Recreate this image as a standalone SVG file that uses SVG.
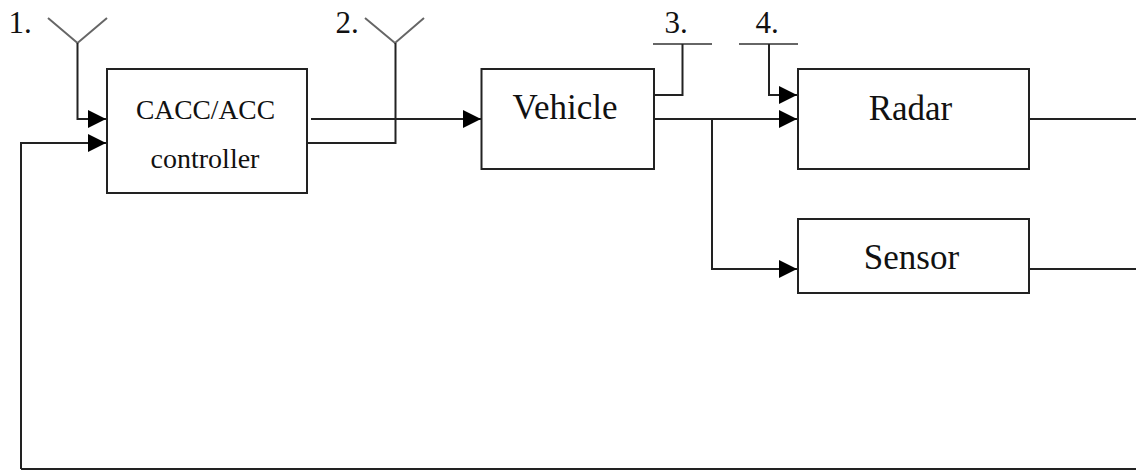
<svg xmlns="http://www.w3.org/2000/svg" width="1136" height="472" viewBox="0 0 1136 472">
<style>
text{font-family:"Liberation Serif","Times New Roman",serif;fill:#111;text-anchor:middle}
.b{fill:#fff;stroke:#222;stroke-width:2}
.c{fill:none;stroke:#222;stroke-width:2}
.g{fill:none;stroke:#666;stroke-width:2}
.l{font-size:31px}
</style>
<defs><marker id="a" markerUnits="userSpaceOnUse" markerWidth="18" markerHeight="18" refX="18" refY="9" orient="auto"><path d="M0 0L18 9L0 18Z" fill="#000"/></marker></defs>
<rect width="1136" height="472" fill="#fff"/>
<g id="connectors">
<path class="g" d="M48 18L77.500 43L107 18M365 18L395 43L424 18M653 44H712M739 44H798"/>
<path class="c" d="M77.500 43V119H106" marker-end="url(#a)"/>
<path class="c" d="M21 469V143H106" marker-end="url(#a)"/>
<path class="c" d="M21 469H1136"/>
<path class="c" d="M311 119H481" marker-end="url(#a)"/>
<path class="c" d="M307 143H395.500V43"/>
<path class="c" d="M654 95H682.500V44"/>
<path class="c" d="M769 44V95H797" marker-end="url(#a)"/>
<path class="c" d="M654 119H797" marker-end="url(#a)"/>
<path class="c" d="M712 119V269H797" marker-end="url(#a)"/>
<path class="c" d="M1029 119H1136M1029 269H1136"/>
</g>
<g id="label-1"><text class="l" x="20" y="33">1.</text></g>
<g id="label-2"><text class="l" x="347" y="33">2.</text></g>
<g id="label-3"><text class="l" x="676" y="33">3.</text></g>
<g id="label-4"><text class="l" x="767" y="33">4.</text></g>
<g id="controller"><rect class="b" x="107" y="69" width="200" height="124"/><text x="205.500" y="119" font-size="27.500">CACC/ACC</text><text x="205" y="168" font-size="28">controller</text></g>
<g id="vehicle"><rect class="b" x="481.500" y="69" width="172.500" height="100"/><text x="565" y="119" font-size="35">Vehicle</text></g>
<g id="radar"><rect class="b" x="798" y="69" width="231" height="100"/><text x="910.500" y="120" font-size="35">Radar</text></g>
<g id="sensor"><rect class="b" x="798" y="219" width="231" height="74"/><text x="911.500" y="269" font-size="35">Sensor</text></g>
</svg>
